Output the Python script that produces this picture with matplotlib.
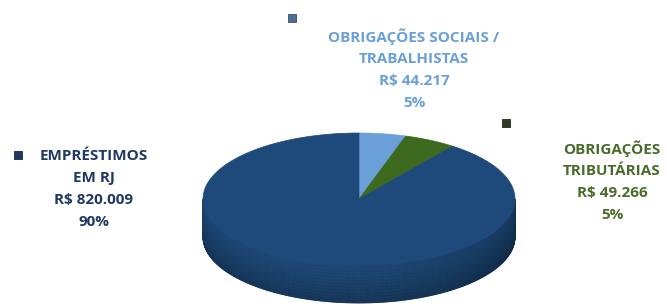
import numpy as np
import matplotlib
matplotlib.use("Agg")
import matplotlib.pyplot as plt
from matplotlib.patches import Polygon, Rectangle
from matplotlib.colors import to_rgb

# data
categories = ["OBRIGAÇÕES SOCIAIS /\nTRABALHISTAS", "OBRIGAÇÕES\nTRIBUTÁRIAS", "EMPRÉSTIMOS\nEM RJ"]
values = [44217, 49266, 820009]
value_labels = ["R$ 44.217", "R$ 49.266", "R$ 820.009"]
slice_colors = ["#6a9fd8", "#3d6a1f", "#1d4a7a"]
text_colors = ["#6a9fd8", "#4a6b2a", "#1f3864"]
key_colors = ["#4d6f96", "#2e3d22", "#1f3864"]

plt.rcParams['font.family'] = ['Open Sans', 'DejaVu Sans']

fig = plt.figure(figsize=(6.67, 3.07), dpi=100)
ax = fig.add_axes([0, 0, 1, 1])
ax.set_xlim(0, 667)
ax.set_ylim(307, 0)
ax.axis("off")

# pie geometry (pixel units)
cx, cy = 359, 199
a, b = 156, 66
depth = 38

total = float(sum(values))
fracs = [v / total for v in values]
cum = np.concatenate([[0], np.cumsum(fracs)])
starts = 90 - 360 * cum[:-1]
ends = 90 - 360 * cum[1:]


def pt(t, dy=0):
    r = np.radians(t)
    return cx + a * np.cos(r), cy - b * np.sin(r) + dy


def shade(col, f):
    c = np.array(to_rgb(col))
    return tuple(np.clip(c * f, 0, 1))


# side walls (front half only), shaded by angle and height
nb = 12
for i in range(len(values)):
    t0, t1 = starts[i], ends[i]
    lo, hi = min(t0, t1), max(t0, t1)
    ts = np.linspace(lo, hi, int(abs(hi - lo)) * 2 + 2)
    for k in range(len(ts) - 1):
        u0, u1 = ts[k], ts[k + 1]
        m = ((u0 + u1) / 2) % 360
        if not (180 <= m <= 360):
            continue
        fa = 0.80 + 0.14 * np.cos(np.radians(m - 240))
        for j in range(nb):
            d0, d1 = depth * j / nb, depth * (j + 1) / nb
            f = fa * (1.02 - 0.24 * (j / (nb - 1)) ** 1.3)
            col = shade(slice_colors[i], f)
            ax.add_patch(Polygon([pt(u0, d0), pt(u1, d0), pt(u1, d1), pt(u0, d1)],
                                 closed=True, facecolor=col, edgecolor=col, lw=0.6))

# top faces
for i in range(len(values)):
    ts = np.linspace(starts[i], ends[i], 200)
    poly = [(cx, cy)] + [pt(t) for t in ts]
    ax.add_patch(Polygon(poly, closed=True, facecolor=slice_colors[i],
                         edgecolor=slice_colors[i], lw=0.5))

# labels
label_pos = [(414, 37), (612, 149), (94, 156)]
key_pos = [(292, 18), (506, 123), (18, 155)]
pcts = [f"{round(f * 100):.0f}%" for f in fracs]
for i in range(len(values)):
    lines = categories[i].split("\n") + [value_labels[i], pcts[i]]
    x, y = label_pos[i]
    for j, ln in enumerate(lines):
        ax.text(x, y + j * 22, ln, color=text_colors[i], fontsize=11,
                fontweight="bold", ha="center", va="center")
    kx, ky = key_pos[i]
    ax.add_patch(Rectangle((kx - 4, ky - 4), 8, 8, facecolor=key_colors[i],
                           edgecolor=shade(key_colors[i], 0.7), lw=0.6))

fig.savefig("out.png", dpi=100)
